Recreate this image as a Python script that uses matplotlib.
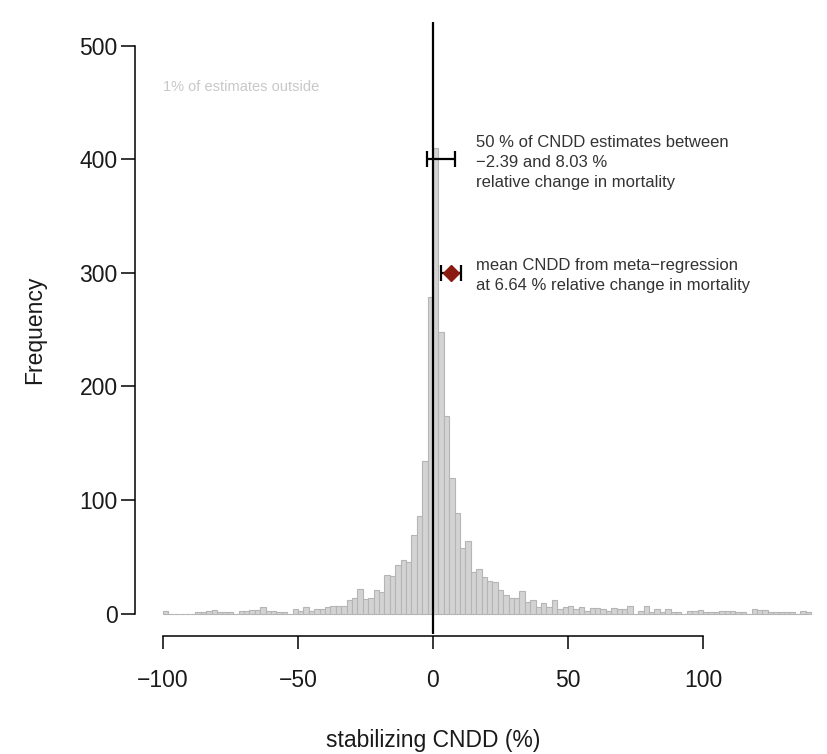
import matplotlib
matplotlib.use("Agg")
import matplotlib.pyplot as plt

plt.rcParams['font.family'] = ['Liberation Sans', 'DejaVu Sans']

# histogram of CNDD estimates, bins of width 2 from -100 to 140
bin_left = list(range(-100, 140, 2))
counts = [2, 0, 0, 0, 0, 0, 1, 1, 2, 3,
          1, 1, 1, 0, 2, 2, 3, 3, 6, 2,
          2, 1, 1, 0, 4, 2, 6, 2, 4, 4,
          6, 7, 7, 7, 12, 14, 22, 13, 14, 21,
          19, 34, 33, 43, 47, 45, 69, 86, 134, 279,
          410, 248, 174, 119, 89, 58, 64, 37, 39, 32,
          29, 28, 21, 16, 14, 14, 20, 10, 12, 6,
          9, 6, 12, 4, 6, 7, 4, 6, 2, 5,
          5, 4, 2, 5, 4, 4, 7, 0, 2, 7,
          1, 4, 1, 4, 1, 1, 0, 2, 2, 3,
          1, 1, 1, 2, 2, 2, 1, 1, 0, 4,
          3, 3, 1, 1, 1, 1, 1, 0, 2, 1]
bin_width = 2

# interquartile range of estimates
iqr_low, iqr_high, iqr_y = -2.39, 8.03, 400
# meta-regression mean and its interval
mean_x, mean_low, mean_high, mean_y = 6.64, 2.9, 10.5, 300

xticks = [-100, -50, 0, 50, 100]
yticks = [0, 100, 200, 300, 400, 500]

fig = plt.figure(figsize=(8.27, 7.54), dpi=100)
ax = fig.add_axes([136 / 827, 120 / 754, 688.5 / 827, 612 / 754])

ax.bar(bin_left, counts, width=bin_width, align='edge',
       color='#d3d3d3', edgecolor='#b5b5b5', linewidth=0.8, zorder=1)
ax.axvline(0, color='black', lw=1.6, zorder=3)

ax.errorbar([(iqr_low + iqr_high) / 2], [iqr_y],
            xerr=[[(iqr_high - iqr_low) / 2], [(iqr_high - iqr_low) / 2]],
            fmt='none', ecolor='black', elinewidth=1.6, capsize=6, capthick=1.6, zorder=4)
ax.errorbar([mean_x], [mean_y], xerr=[[mean_x - mean_low], [mean_high - mean_x]],
            fmt='D', color='#8b1a10', markersize=8, ecolor='black',
            elinewidth=1.6, capsize=6, capthick=1.6, zorder=4)

txt = '#333333'
ax.text(16, 421.5, '50 % of CNDD estimates between\n\u22122.39 and 8.03 %\nrelative change in mortality',
        fontsize=12, color=txt, va='top', ha='left', linespacing=1.42)
ax.text(16, 313.5, 'mean CNDD from meta\u2212regression\nat 6.64 % relative change in mortality',
        fontsize=12, color=txt, va='top', ha='left', linespacing=1.42)
ax.text(-100, 464, '1% of estimates outside', fontsize=10.5, color='#c8c8c8',
        va='center', ha='left')

ax.set_xlim(-110, 145)
ax.set_ylim(-18, 521)

for s in ['top', 'right']:
    ax.spines[s].set_visible(False)
ax.spines['left'].set_position(('outward', 0.7))
ax.spines['left'].set_bounds(0, 500)
ax.spines['bottom'].set_position(('outward', 1.5))
ax.spines['bottom'].set_bounds(-100, 100)
for s in ['left', 'bottom']:
    ax.spines[s].set_linewidth(1.1)

ax.set_xticks(xticks)
ax.set_yticks(yticks)
ax.tick_params(axis='both', width=1.1, labelsize=16.5, colors='black',
               labelcolor='#1a1a1a')
ax.tick_params(axis='y', length=10, pad=2.5)
ax.tick_params(axis='x', length=9.5, pad=14.5)

fig.text(35 / 827, 1 - 330 / 754, 'Frequency', rotation=90, ha='center', va='center',
         fontsize=16.5, color='#1a1a1a')
ax.text(0, -(740 - 634) / 612, 'stabilizing CNDD (%)', ha='center', va='center',
        fontsize=16.5, color='#1a1a1a', transform=ax.get_xaxis_transform())

fig.savefig('out.png', dpi=100)
